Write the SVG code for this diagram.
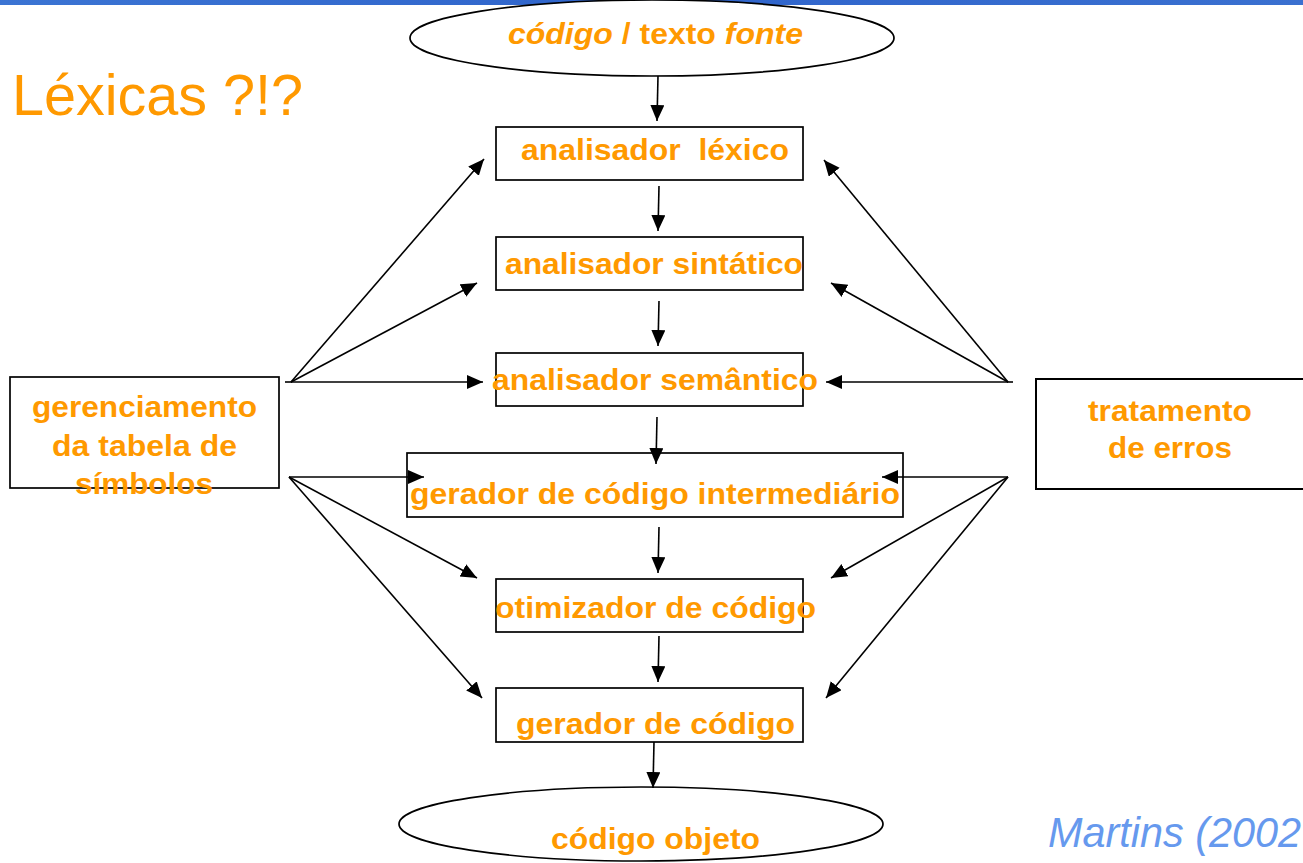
<svg xmlns="http://www.w3.org/2000/svg" width="1303" height="863" viewBox="0 0 1303 863">
<defs>
<linearGradient id="bar" x1="0" y1="0" x2="1" y2="0">
<stop offset="0" stop-color="#3b74d3"/>
<stop offset="0.5" stop-color="#2f64cb"/>
<stop offset="1" stop-color="#3a70d0"/>
</linearGradient>
<marker id="ah" markerUnits="userSpaceOnUse" markerWidth="18" markerHeight="16" refX="16" refY="7" orient="auto">
<path d="M0,0 L16,7 L0,14 Z" fill="#000"/>
</marker>
<style>
.box{fill:#fff;stroke:#000;stroke-width:1.7}
.ell{fill:#fff;stroke:#000;stroke-width:1.7}
.lbl{font-family:"Liberation Sans",Arial,sans-serif;font-weight:bold;font-size:30px;fill:#ff9900}
.c{stroke:#000;stroke-width:1.6;fill:none;marker-end:url(#ah)}
.p{stroke:#000;stroke-width:1.6;fill:none}
</style>
</defs>
<rect width="1303" height="863" fill="#fff"/>
<rect x="0" y="0" width="1303" height="5" fill="url(#bar)"/>
<text x="12" y="115" font-family="Liberation Sans,Arial,sans-serif" font-size="58" fill="#ff9900" textLength="291" lengthAdjust="spacingAndGlyphs">Léxicas ?!?</text>
<text x="1048" y="847" font-family="Liberation Sans,Arial,sans-serif" font-size="42" font-style="italic" fill="#6699ee" textLength="253" lengthAdjust="spacingAndGlyphs">Martins (2002</text>

<g id="src">
<ellipse class="ell" cx="652" cy="38" rx="242" ry="38"/>
<text class="lbl" x="508" y="44" textLength="295" lengthAdjust="spacingAndGlyphs"><tspan font-style="italic">código</tspan> / texto <tspan font-style="italic">fonte</tspan></text>
</g>
<g id="lexico">
<rect class="box" x="496" y="127" width="307" height="53"/>
<text class="lbl" x="521" y="160" textLength="268" lengthAdjust="spacingAndGlyphs" xml:space="preserve">analisador  léxico</text>
</g>
<g id="sintatico">
<rect class="box" x="496" y="237" width="307" height="53"/>
<text class="lbl" x="505" y="274" textLength="298" lengthAdjust="spacingAndGlyphs">analisador sintático</text>
</g>
<g id="semantico">
<rect class="box" x="496" y="353" width="307" height="53"/>
<text class="lbl" x="492" y="390" textLength="326" lengthAdjust="spacingAndGlyphs">analisador semântico</text>
</g>
<g id="intermediario">
<rect class="box" x="407" y="453" width="496" height="64"/>
<text class="lbl" x="410" y="504" textLength="490" lengthAdjust="spacingAndGlyphs">gerador de código intermediário</text>
</g>
<g id="otimizador">
<rect class="box" x="496" y="579" width="307" height="53"/>
<text class="lbl" x="495" y="618" textLength="321" lengthAdjust="spacingAndGlyphs">otimizador de código</text>
</g>
<g id="gerador">
<rect class="box" x="496" y="688" width="307" height="54"/>
<text class="lbl" x="516" y="734" textLength="279" lengthAdjust="spacingAndGlyphs">gerador de código</text>
</g>
<g id="objeto">
<ellipse class="ell" cx="641" cy="824" rx="242" ry="37"/>
<text class="lbl" x="551" y="849" textLength="209" lengthAdjust="spacingAndGlyphs">código objeto</text>
</g>
<g id="tabela">
<rect class="box" x="10" y="377" width="269" height="111"/>
<text class="lbl" x="32" y="417" textLength="225" lengthAdjust="spacingAndGlyphs">gerenciamento</text>
<text class="lbl" x="52" y="456" textLength="185" lengthAdjust="spacingAndGlyphs">da tabela de</text>
<text class="lbl" x="75" y="494" textLength="138" lengthAdjust="spacingAndGlyphs">símbolos</text>
</g>
<g id="erros">
<rect x="1036" y="379" width="290" height="110" fill="#fff" stroke="#000" stroke-width="2"/>
<text class="lbl" x="1088" y="421" textLength="164" lengthAdjust="spacingAndGlyphs">tratamento</text>
<text class="lbl" x="1108" y="458" textLength="124" lengthAdjust="spacingAndGlyphs">de erros</text>
</g>

<g id="connectors">
<line class="c" x1="658" y1="76" x2="657" y2="121"/>
<line class="c" x1="659" y1="186" x2="658" y2="231"/>
<line class="c" x1="659" y1="301" x2="658" y2="346"/>
<line class="c" x1="657" y1="417" x2="656" y2="464"/>
<line class="c" x1="659" y1="527" x2="658" y2="573"/>
<line class="c" x1="659" y1="636" x2="658" y2="682"/>
<line class="c" x1="654" y1="742" x2="653" y2="788"/>

<line class="p" x1="285" y1="382" x2="292" y2="382"/>
<line class="c" x1="291" y1="382" x2="484" y2="159"/>
<line class="c" x1="291" y1="382" x2="477" y2="283"/>
<line class="c" x1="291" y1="382" x2="483" y2="382"/>

<line class="c" x1="289" y1="477" x2="424" y2="477"/>
<line class="c" x1="289" y1="477" x2="477" y2="578"/>
<line class="c" x1="289" y1="477" x2="482" y2="698"/>

<line class="p" x1="1007" y1="382" x2="1013" y2="382"/>
<line class="c" x1="1008" y1="382" x2="824" y2="160"/>
<line class="c" x1="1008" y1="382" x2="831" y2="283"/>
<line class="c" x1="1008" y1="382" x2="826" y2="382"/>

<line class="c" x1="1008" y1="477" x2="882" y2="477"/>
<line class="c" x1="1008" y1="477" x2="831" y2="578"/>
<line class="c" x1="1008" y1="477" x2="826" y2="698"/>
</g>
</svg>
